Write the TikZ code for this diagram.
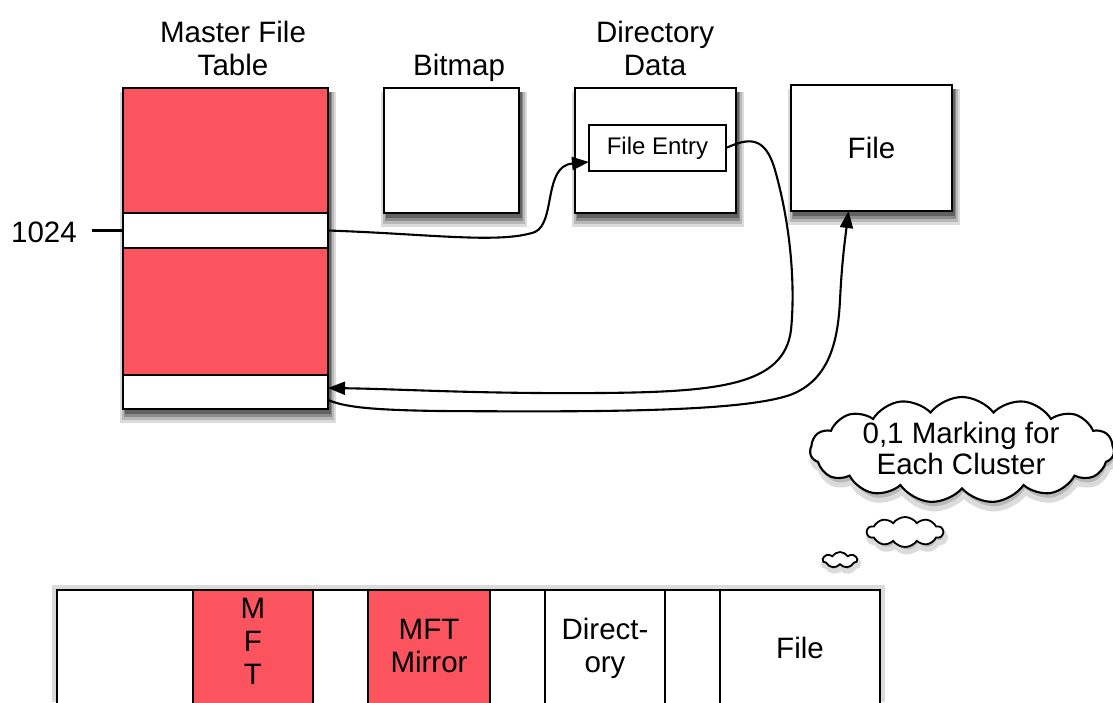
\documentclass[tikz,border=0pt]{standalone}
\usepackage{fontspec}
\setmainfont{Liberation Sans}
\usetikzlibrary{shapes.symbols,arrows.meta}
\definecolor{mftred}{RGB}{252,84,94}
\definecolor{shA}{gray}{0.86}
\definecolor{shB}{gray}{0.72}
\definecolor{shC}{gray}{0.55}
\definecolor{shD}{gray}{0.38}
\begin{document}
\begin{tikzpicture}[x=1pt,y=-1pt,
  cell/.style={draw=black, line width=2.1pt, anchor=north west, inner sep=0pt, outer sep=0pt},
  lbl/.style={font=\fontsize{29.5}{33}\selectfont, align=center, inner sep=0pt},
  conn/.style={line width=2.1pt, -{Triangle[length=17pt,width=13pt]}},
  puff/.style={cloud, draw=black, fill=white, line width=2.1pt, inner sep=0pt},
  cshadow/.style={cloud, fill=shB, draw=shA, line width=5pt, inner sep=0pt},
]
\useasboundingbox (0,0) rectangle (1113,702);
\fill[white] (0,0) rectangle (1113,702);

% soft shadows (drawn first, under the boxes)
\foreach \px/\py/\w/\h in {123/88/205/321, 384/88/135/125, 575/88/161/125, 791/85/161/126} {
  \fill[shA] (\px-3,\py+4) rectangle (\px+\w+8,\py+\h+14);
  \fill[shB] (\px-1,\py+4) rectangle (\px+\w+6,\py+\h+11);
  \fill[shC] (\px+1,\py+4) rectangle (\px+\w+4,\py+\h+8);
  \fill[shD] (\px+2,\py+4) rectangle (\px+\w+3,\py+\h+5);
}
\fill[shA] (52,585) rectangle (885,702);

% Master File Table column
\node[cell, fill=white, minimum width=205pt, minimum height=321pt] (mftcol) at (123,88) {};
\node[cell, fill=mftred, minimum width=205pt, minimum height=125pt] (mA) at (123,88) {};
\node[cell, fill=white, minimum width=205pt, minimum height=35pt] (r1) at (123,213) {};
\node[cell, fill=mftred, minimum width=205pt, minimum height=127pt] (mB) at (123,248) {};
\node[cell, fill=white, minimum width=205pt, minimum height=34pt] (r2) at (123,375) {};

% other boxes
\node[cell, fill=white, minimum width=135pt, minimum height=125pt] (bit) at (384,88) {};
\node[cell, fill=white, minimum width=161pt, minimum height=125pt] (dir) at (575,88) {};
\node[cell, fill=white, minimum width=137pt, minimum height=46pt, anchor=north west] (fe) at (589,125) {};
\node[font=\fontsize{24}{27}\selectfont, inner sep=0pt] (fet) at (fe.center) {File Entry};
\node[cell, fill=white, minimum width=161pt, minimum height=126pt] (fb) at (791,85) {};
\node[lbl] (fbt) at (fb.center) {File};

% titles
\node[lbl] (tmft) at (233,48) {Master File\\Table};
\node[lbl, anchor=base] (tbit) at (459,75) {Bitmap};
\node[lbl] (tdir) at (655,48) {Directory\\Data};
\node[lbl, anchor=base] (t1024) at (44,242) {1024};
\coordinate (tk) at (92,230.5);
\draw[line width=2.1pt] (tk) -- (r1.west);

% connectors
\draw[conn] (r1.east) .. controls (430,234) and (500,244) .. (535,232)
  .. controls (556,222) and (543,166) .. ([yshift=9pt]fe.south west);
\draw[conn] (fe.east) .. controls (748,138) and (765,135) .. (775,170)
  .. controls (792,230) and (795,290) .. (791,330)
  .. controls (784,385) and (720,392) .. (600,393)
  .. controls (480,394) and (400,389) .. ([yshift=4pt]r2.east);
\draw[conn] ([yshift=-8pt]r2.east) .. controls (345,407) and (370,410) .. (440,411)
  .. controls (600,412) and (740,412) .. (790,395)
  .. controls (830,380) and (838,340) .. (840,300)
  .. controls (842,260) and (845,240) .. ([xshift=-23pt]fb.south);

% thought cloud with shadows
\node[cshadow, cloud puffs=15, cloud puff arc=105, aspect=2.9, minimum width=304pt, minimum height=106pt] (cls) at (964,457) {};
\node[cshadow, cloud puffs=10, cloud puff arc=110, aspect=2.6, minimum width=76pt, minimum height=30pt] (cl2s) at (907,537) {};
\node[cshadow, cloud puffs=7, cloud puff arc=115, aspect=2.2, minimum width=34pt, minimum height=16pt] (cl3s) at (841,564) {};
\node[puff, cloud puffs=15, cloud puff arc=105, aspect=2.9, minimum width=304pt, minimum height=106pt] (cl) at (962,450) {};
\node[font=\fontsize{29.5}{31}\selectfont, align=center, inner sep=0pt] (clt) at (961,448) {0,1 Marking for\\Each Cluster};
\node[puff, cloud puffs=10, cloud puff arc=110, aspect=2.6, minimum width=76pt, minimum height=30pt, line width=1.8pt] (cl2) at (905,532) {};
\node[puff, cloud puffs=7, cloud puff arc=115, aspect=2.2, minimum width=34pt, minimum height=16pt, line width=1.8pt] (cl3) at (840,560) {};

% bottom bar
\begin{scope}
\clip (0,0) rectangle (1113,702);
\node[cell, fill=white, minimum width=136pt, minimum height=140pt] (b1) at (57,590) {};
\node[cell, fill=mftred, minimum width=120pt, minimum height=140pt] (b2) at (193,590) {};
\node[cell, fill=white, minimum width=55pt, minimum height=140pt] (b3) at (313,590) {};
\node[cell, fill=mftred, minimum width=122pt, minimum height=140pt] (b4) at (368,590) {};
\node[cell, fill=white, minimum width=55pt, minimum height=140pt] (b5) at (490,590) {};
\node[cell, fill=white, minimum width=120pt, minimum height=140pt] (b6) at (545,590) {};
\node[cell, fill=white, minimum width=55pt, minimum height=140pt] (b7) at (665,590) {};
\node[cell, fill=white, minimum width=160pt, minimum height=140pt] (b8) at (720,590) {};
\end{scope}
\node[lbl] (l2) at (253,641) {M\\F\\T};
\node[lbl] (l4) at (429,646) {MFT\\Mirror};
\node[lbl] (l6) at (605,648) {Direct-\\ory};
\node[lbl, anchor=base] (l8) at (800,658) {File};
\end{tikzpicture}
\end{document}
